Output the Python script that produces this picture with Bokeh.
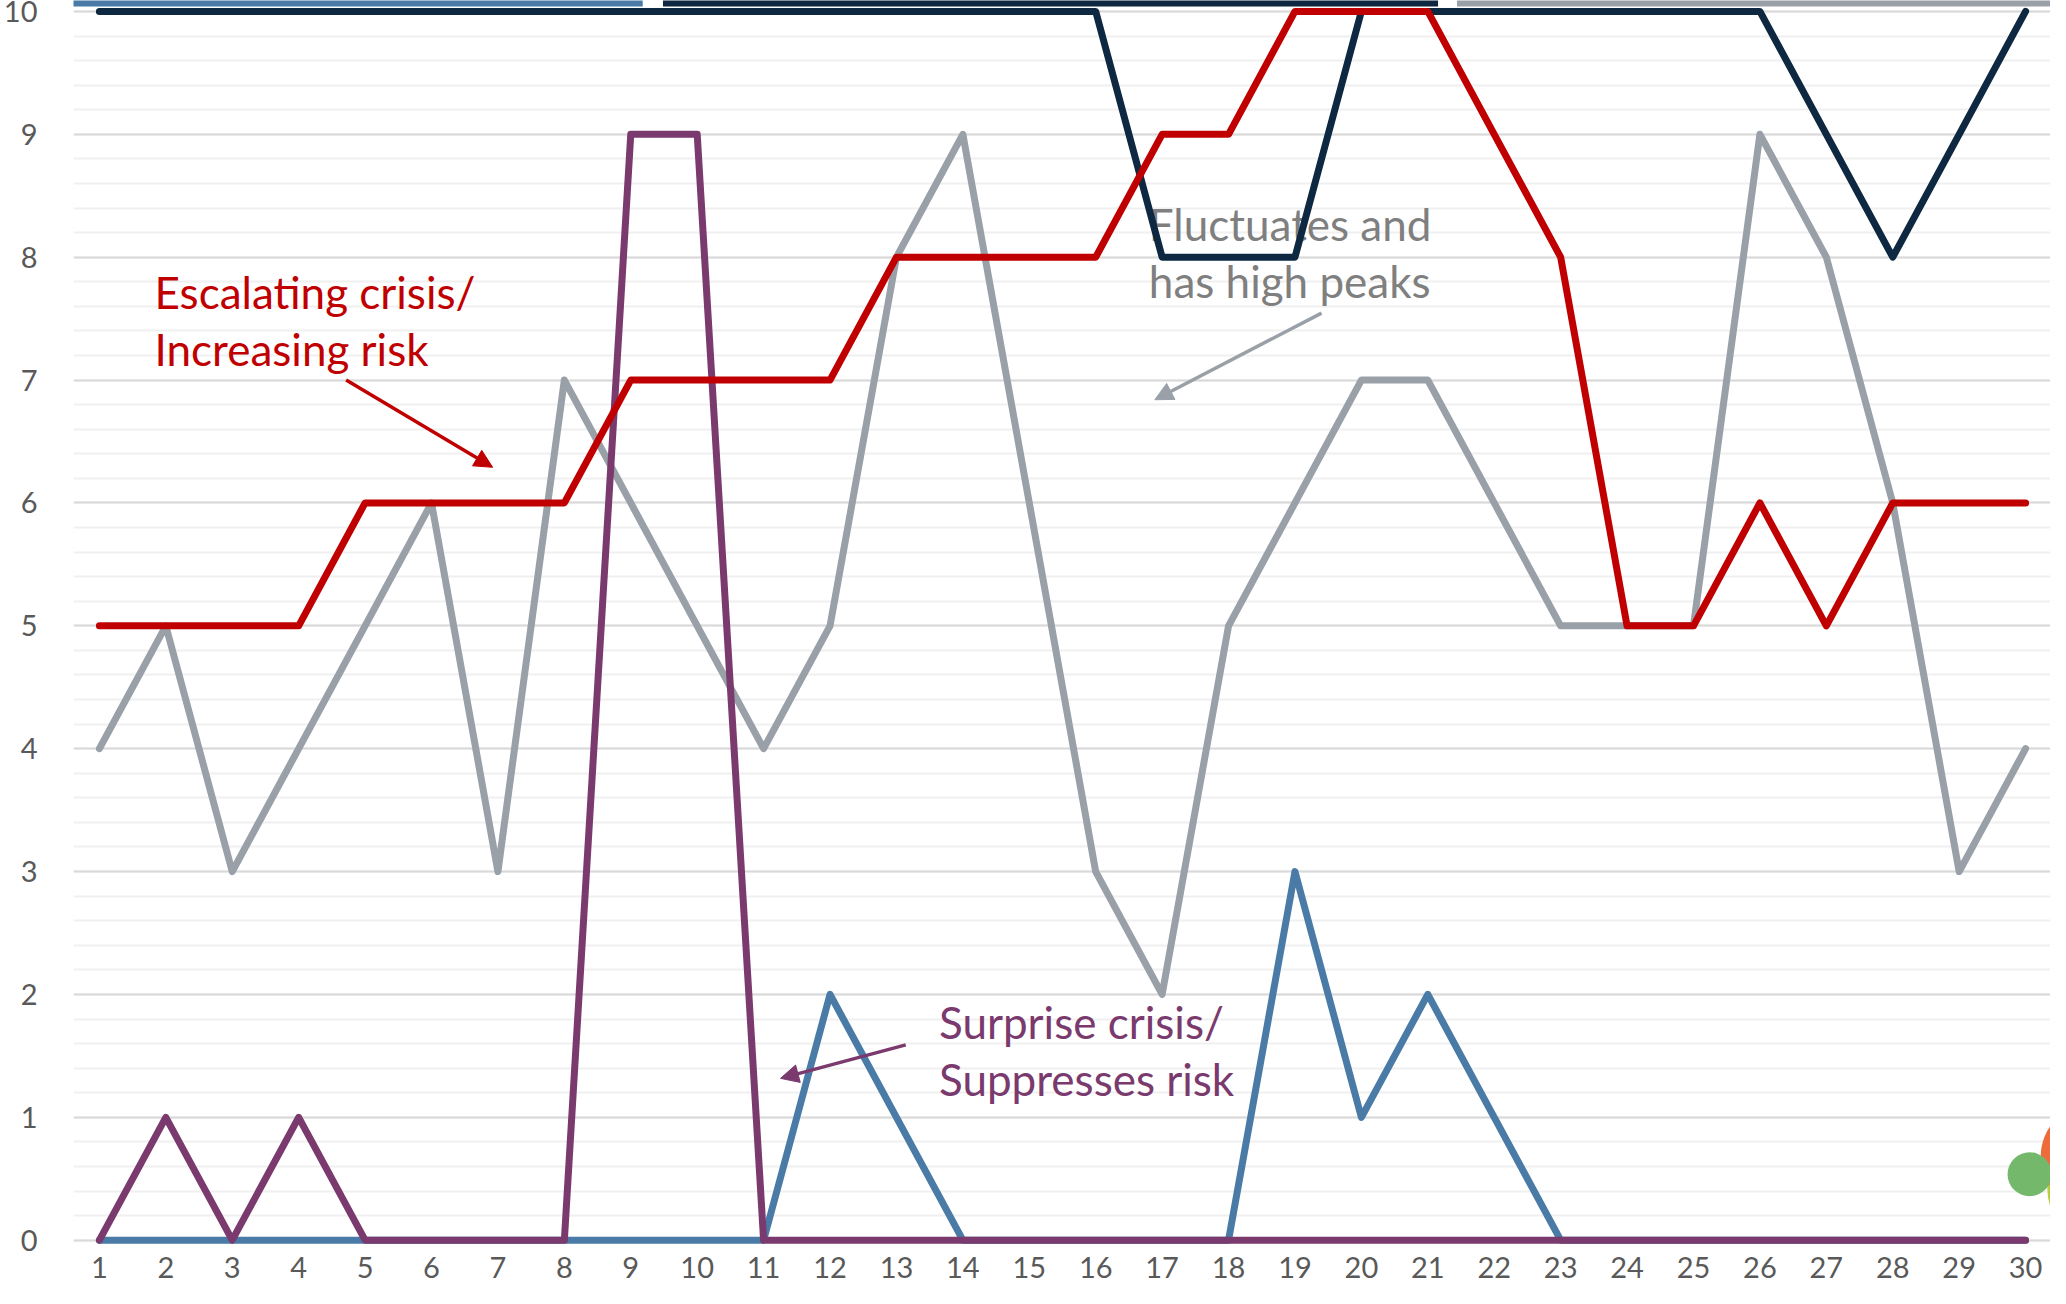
from bokeh.plotting import figure
from bokeh.models import Range1d, FixedTicker, SingleIntervalTicker, Arrow, NormalHead
from bokeh.core.properties import value
from bokeh.embed import file_html
from bokeh.resources import INLINE

# ---- data ----
days = [1, 2, 3, 4, 5, 6, 7, 8, 9, 10, 11, 12, 13, 14, 15,
        16, 17, 18, 19, 20, 21, 22, 23, 24, 25, 26, 27, 28, 29, 30]
tick_labels = [str(d) for d in days]

stable_high = [10, 10, 10, 10, 10, 10, 10, 10, 10, 10, 10, 10, 10, 10, 10,
               10, 8, 8, 8, 10, 10, 10, 10, 10, 10, 10, 9, 8, 9, 10]
escalating = [5, 5, 5, 5, 6, 6, 6, 6, 7, 7, 7, 7, 8, 8, 8,
              8, 9, 9, 10, 10, 10, 9, 8, 5, 5, 6, 5, 6, 6, 6]
fluctuating = [4, 5, 3, 4, 5, 6, 3, 7, 6, 5, 4, 5, 8, 9, 6,
               3, 2, 5, 6, 7, 7, 6, 5, 5, 5, 9, 8, 6, 3, 4]
low_risk = [0, 0, 0, 0, 0, 0, 0, 0, 0, 0, 0, 2, 1, 0, 0,
            0, 0, 0, 3, 1, 2, 1, 0, 0, 0, 0, 0, 0, 0, 0]
surprise = [0, 1, 0, 1, 0, 0, 0, 0, 9, 9, 0, 0, 0, 0, 0,
            0, 0, 0, 0, 0, 0, 0, 0, 0, 0, 0, 0, 0, 0, 0]

c_blue = "#4a7ba6"
c_navy = "#0d2840"
c_gray = "#99a0a8"
c_red = "#c00000"
c_purple = "#7a3a6e"

FONT = "Lato"

p = figure(width=2050, height=1288, output_backend="svg", toolbar_location=None,
           x_range=Range1d(0.61, 30.375), y_range=Range1d(-0.035, 10.089),
           min_border_left=66, min_border_right=0, min_border_top=0,
           min_border_bottom=44)
p.outline_line_color = None
p.background_fill_color = "white"
p.border_fill_color = "white"

# axes
p.xaxis.ticker = FixedTicker(ticks=days)
p.xaxis.major_label_overrides = {d: lbl for d, lbl in zip(days, tick_labels)}
p.yaxis.ticker = SingleIntervalTicker(interval=1, num_minor_ticks=5)
for ax in (p.xaxis, p.yaxis):
    ax.axis_line_color = None
    ax.major_tick_line_color = None
    ax.minor_tick_line_color = None
    ax.major_label_text_font = FONT
    ax.major_label_text_font_size = "29px"
    ax.major_label_text_color = "#595959"
p.yaxis.major_label_standoff = 30
p.xaxis.major_label_standoff = 6

p.xgrid.grid_line_color = None
p.ygrid.grid_line_color = "#d9d9d9"
p.ygrid.grid_line_width = 2
p.ygrid.minor_grid_line_color = "#f0f0f0"
p.ygrid.minor_grid_line_width = 2

# legend swatches clipped at the top edge (decoration)
sw_left = [0.0, 9.485, 21.44]
sw_right = [9.18, 21.154, 31.0]
sw_color = [c_blue, c_navy, c_gray]
p.quad(left=sw_left, right=sw_right, bottom=10.04, top=10.2,
       fill_color=sw_color, line_color=None)

# logo fragment at the lower right (decoration)
p.scatter(x=[31.2], y=[0.42], size=116, fill_color="#b7cf3d", line_color=None)
p.scatter(x=[31.01], y=[0.683], size=104, fill_color="#ee6c3b", line_color=None)
p.scatter(x=[30.06], y=[0.537], size=44, fill_color="#74b96b", line_color=None)

# annotation texts (drawn below the lines)
txt_kw = dict(text_font=value(FONT), text_font_size="44px",
              text_baseline="top", text_align="left", text_line_height=1.1)
p.text(x=[1.83], y=[7.93], text=["Escalating crisis/\nIncreasing risk"],
       text_color=c_red, **txt_kw)
p.text(x=[16.80], y=[8.48], text=["Fluctuates and\nhas high peaks"],
       text_color="#7f7f7f", **txt_kw)
p.text(x=[13.64], y=[1.99], text=["Surprise crisis/\nSuppresses risk"],
       text_color=c_purple, **txt_kw)

# series lines
lw = 7
for series, col in ((low_risk, c_blue), (fluctuating, c_gray), (surprise, c_purple),
                    (stable_high, c_navy), (escalating, c_red)):
    p.line(days, series, line_color=col, line_width=lw,
           line_cap="round", line_join="round")

# arrows
for (xs, ys, xe, ye, col) in ((4.715, 7.0, 6.92, 6.29, c_red),
                              (19.40, 7.545, 16.89, 6.84, c_gray),
                              (13.14, 1.59, 11.255, 1.317, c_purple)):
    p.add_layout(Arrow(x_start=xs, y_start=ys, x_end=xe, y_end=ye,
                       line_color=col, line_width=3.5,
                       end=NormalHead(size=18, fill_color=col, line_color=col)))

open("out.html", "w").write(file_html(p, INLINE))
